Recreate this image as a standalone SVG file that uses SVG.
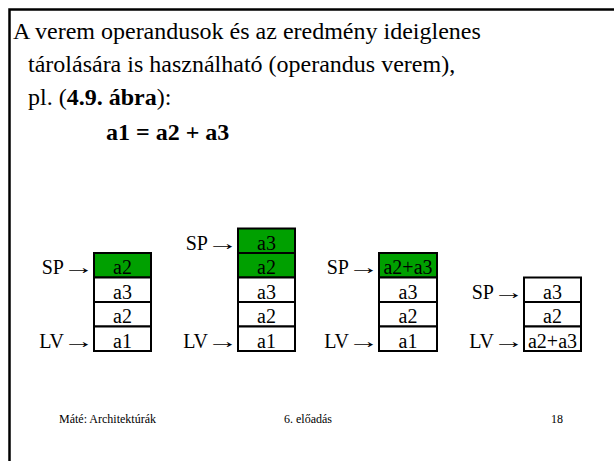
<svg xmlns="http://www.w3.org/2000/svg" width="614" height="461" viewBox="0 0 614 461">
<style>
text{font-family:"Liberation Serif","Times New Roman",serif;fill:#000}
.t{font-size:24px}
.b{font-weight:bold}
.c{fill:#fff;stroke:#000;stroke-width:2}
.g{fill:#00a000;stroke:#000;stroke-width:2}
.v{font-size:20px;text-anchor:middle}
.l{font-size:20px;text-anchor:end}
.a{font-size:20px}
.f{font-size:12px}
</style>
<rect x="0" y="0" width="614" height="461" fill="#fff"/>
<rect id="frame" x="9.5" y="9.5" width="620" height="470" fill="none" stroke="#000" stroke-width="2.5"/>
<g id="heading">
<text class="t" x="13" y="39">A verem operandusok és az eredmény ideiglenes</text>
<text class="t" x="28" y="72">tárolására is használható (operandus verem),</text>
<text class="t" x="28" y="105">pl. (<tspan class="b">4.9. ábra</tspan>):</text>
<text class="t b" x="106" y="140">a1 = a2 + a3</text>
</g>
<g id="stack1">
<rect class="g" x="94" y="253" width="57" height="24.5"/>
<rect class="c" x="94" y="277.5" width="57" height="24.5"/>
<rect class="c" x="94" y="302" width="57" height="24.5"/>
<rect class="c" x="94" y="326.5" width="57" height="24.5"/>
<text class="v" x="122.5" y="274">a2</text>
<text class="v" x="122.5" y="298.5">a3</text>
<text class="v" x="122.5" y="323">a2</text>
<text class="v" x="122.5" y="347.5">a1</text>
<text class="l" x="64" y="274">SP</text>
<text class="a" transform="translate(62.7,274) scale(1.58,1)">→</text>
<text class="l" x="64" y="347.5">LV</text>
<text class="a" transform="translate(62.7,347.5) scale(1.58,1)">→</text>
</g>
<g id="stack2">
<rect class="g" x="238" y="228.5" width="57" height="24.5"/>
<rect class="g" x="238" y="253" width="57" height="24.5"/>
<rect class="c" x="238" y="277.5" width="57" height="24.5"/>
<rect class="c" x="238" y="302" width="57" height="24.5"/>
<rect class="c" x="238" y="326.5" width="57" height="24.5"/>
<text class="v" x="266.5" y="249.5">a3</text>
<text class="v" x="266.5" y="274">a2</text>
<text class="v" x="266.5" y="298.5">a3</text>
<text class="v" x="266.5" y="323">a2</text>
<text class="v" x="266.5" y="347.5">a1</text>
<text class="l" x="208" y="249.5">SP</text>
<text class="a" transform="translate(206.7,249.5) scale(1.58,1)">→</text>
<text class="l" x="208" y="347.5">LV</text>
<text class="a" transform="translate(206.7,347.5) scale(1.58,1)">→</text>
</g>
<g id="stack3">
<rect class="g" x="379" y="253" width="58" height="24.5"/>
<rect class="c" x="379" y="277.5" width="58" height="24.5"/>
<rect class="c" x="379" y="302" width="58" height="24.5"/>
<rect class="c" x="379" y="326.5" width="58" height="24.5"/>
<text class="v" x="408" y="274">a2+a3</text>
<text class="v" x="408" y="298.5">a3</text>
<text class="v" x="408" y="323">a2</text>
<text class="v" x="408" y="347.5">a1</text>
<text class="l" x="349" y="274">SP</text>
<text class="a" transform="translate(347.7,274) scale(1.58,1)">→</text>
<text class="l" x="349" y="347.5">LV</text>
<text class="a" transform="translate(347.7,347.5) scale(1.58,1)">→</text>
</g>
<g id="stack4">
<rect class="c" x="524" y="277.5" width="57" height="24.5"/>
<rect class="c" x="524" y="302" width="57" height="24.5"/>
<rect class="c" x="524" y="326.5" width="57" height="24.5"/>
<text class="v" x="552.5" y="298.5">a3</text>
<text class="v" x="552.5" y="323">a2</text>
<text class="v" x="552.5" y="347.5">a2+a3</text>
<text class="l" x="494" y="298.5">SP</text>
<text class="a" transform="translate(492.7,298.5) scale(1.58,1)">→</text>
<text class="l" x="494" y="347.5">LV</text>
<text class="a" transform="translate(492.7,347.5) scale(1.58,1)">→</text>
</g>
<g id="connectors"></g>
<g id="footer">
<text class="f" x="59" y="423">Máté: Architektúrák</text>
<text class="f" x="284" y="423">6. előadás</text>
<text class="f" x="551" y="423">18</text>
</g>
</svg>
